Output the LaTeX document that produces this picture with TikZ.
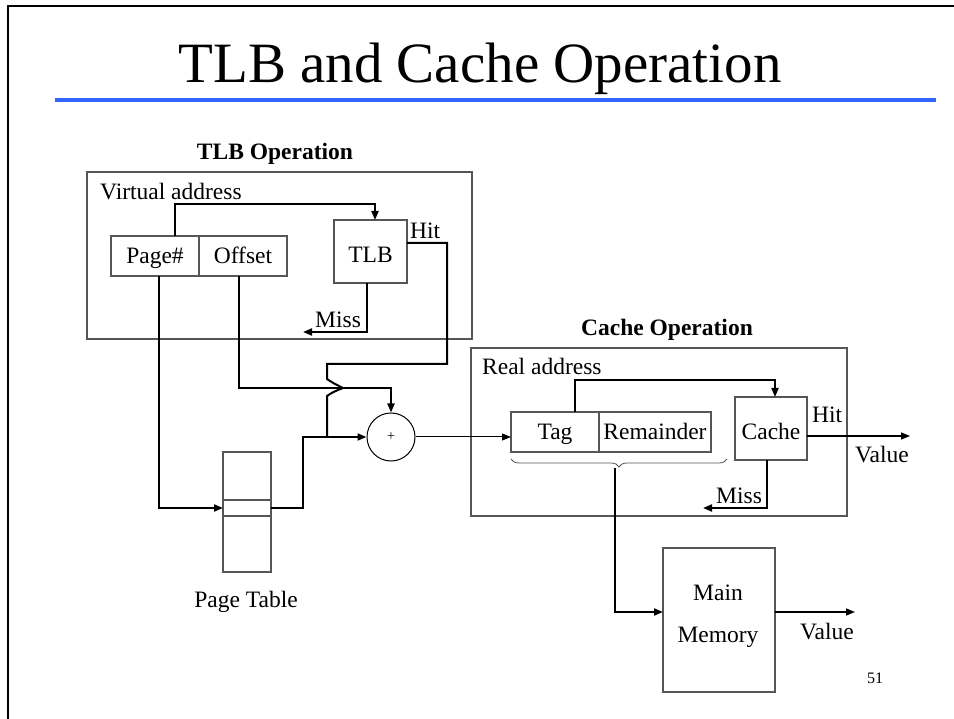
\documentclass[tikz,border=0pt]{standalone}
\usepackage{fontspec}
\setmainfont{Liberation Serif}
\usetikzlibrary{arrows.meta,decorations.pathreplacing,calc}
\definecolor{rulecol}{RGB}{51,102,255}
\definecolor{boxcol}{RGB}{85,85,85}
\begin{document}
\begin{tikzpicture}[x=1pt,y=-1pt,
  lbl/.style={font=\fontsize{23.5}{28}\selectfont, inner sep=0pt},
  box/.style={draw=boxcol, line width=1.2pt, inner sep=0pt, outer sep=0pt,
    font=\fontsize{23.5}{28}\selectfont, text height=20pt, text depth=4pt},
  tallbox/.style={box, text height=27pt, text depth=4pt},
  panel/.style={draw=boxcol, line width=1.2pt},
  conn/.style={line width=2pt, line join=miter},
  tip/.style={-{Triangle[length=9pt,width=7pt]}},
  heading/.style={font=\bfseries\fontsize{23.5}{28}\selectfont, inner sep=0pt}]
\useasboundingbox (0,0) rectangle (954,719);
\fill[white] (0,0) rectangle (954,719);

% slide frame, title and rule
\draw[line width=2.5pt] (8,719) -- (8,6) -- (954,6);
\node[anchor=base, inner sep=0pt, font=\fontsize{57}{64}\selectfont] (title) at (480,83) {TLB and Cache Operation};
\draw[rulecol, line width=4pt] (55,100) -- (936,100);

% ---------- TLB operation ----------
\node[heading, anchor=base] (tlbhead) at (275,160) {TLB Operation};
\draw[panel] (87,172) rectangle (472,339);
\node[lbl, anchor=base west] (va) at (100,200) {Virtual address};
\node[box, minimum width=88pt, minimum height=40pt] (page) at (155,256) {Page\#};
\node[box, minimum width=88pt, minimum height=40pt] (offset) at (243,256) {Offset};
\node[tallbox, minimum width=73pt, minimum height=63pt] (tlb) at (370.5,251.5) {TLB};
\node[lbl, anchor=base west] (tlbhit) at (410,239) {Hit};
\node[lbl, anchor=base west] (tlbmisslbl) at (315,328) {Miss};

% page table
\node[box, minimum width=48pt, minimum height=120pt, text height=0pt, text depth=0pt] (pt) at (247,512) {};
\node[box, minimum width=48pt, minimum height=16pt, text height=0pt, text depth=0pt] (ptrow) at (247,508) {};
\node[lbl, anchor=base] (ptlbl) at (246,607) {Page Table};

% adder
\node[draw=black, line width=1pt, circle, minimum size=48pt, inner sep=0pt,
      font=\fontsize{14}{16}\selectfont] (plus) at (391,437) {+};

% ---------- Cache operation ----------
\node[heading, anchor=base] (cachehead) at (667,336) {Cache Operation};
\draw[panel] (471,348) rectangle (847,516);
\node[lbl, anchor=base west] (ra) at (482,375) {Real address};
\node[box, minimum width=88pt, minimum height=40pt] (tag) at (555,432) {Tag};
\node[box, minimum width=112pt, minimum height=40pt] (rem) at (655,432) {Remainder};
\node[tallbox, minimum width=72pt, minimum height=63pt] (cache) at (771,428.5) {Cache};
\node[lbl, anchor=base west] (cachehit) at (812,423) {Hit};
\node[lbl, anchor=base west] (val1) at (855,463) {Value};
\node[lbl, anchor=base west] (cachemisslbl) at (716,503) {Miss};

% main memory
\node[box, minimum width=112pt, minimum height=144pt, text height=0pt, text depth=0pt] (mm) at (719,620) {};
\node[lbl, anchor=base] (mmA) at (718,600) {Main};
\node[lbl, anchor=base] (mmB) at (718,642) {Memory};
\node[lbl, anchor=base west] (val2) at (800,639) {Value};
\node[anchor=base west, inner sep=0pt, font=\fontsize{16}{19}\selectfont] (pgno) at (867,683) {51};

% free ends and bend points
\coordinate (tlbmiss) at (303,332);
\coordinate (hitA) at (447,364);
\coordinate (jmpA) at (327,379);
\coordinate (jmpB) at (343,388);
\coordinate (jmpC) at (327,396);
\coordinate (joinpt) at (327,437);
\coordinate (offA) at (239,388);
\coordinate (ptA) at (303,508);
\coordinate (cachemiss) at (703,508);
\coordinate (hitout) at (910,436);
\coordinate (valout) at (855,612);
\coordinate (braceL) at (511,459);
\coordinate (braceR) at (727,459);
\coordinate (braceTip) at (615,468);

% ---------- connectors ----------
% page number to TLB
\draw[conn, tip] ([xshift=64pt]page.north west) -- ++(0,-32) -| ([xshift=4.5pt]tlb.north);
% TLB miss
\draw[conn, tip] ([xshift=-3.5pt]tlb.south) |- (tlbmiss);
% TLB hit, jumping over the offset line
\draw[conn] ([yshift=8.5pt]tlb.east) -| (hitA) -| (jmpA)
  .. controls (333,383) .. (jmpB) .. controls (333,392) .. (jmpC) -- (joinpt);
% offset to adder
\draw[conn, tip] ([xshift=40pt]offset.south west) |- (offA) -| (plus.north);
% page number into page table
\draw[conn, tip] ([xshift=48pt]page.south west) |- (ptrow.west);
% page table entry to adder
\draw[conn, tip] (ptrow.east) -| (ptA) |- (plus.west);
% adder to real address
\draw[line width=1pt, tip] (plus.east) -- (plus.east -| tag.west);
% tag to cache
\draw[conn, tip] ([xshift=20pt]tag.north) -- ++(0,-32) -| ([xshift=4pt]cache.north);
% cache hit and miss
\draw[line width=1.5pt, tip] ([yshift=-7.5pt]cache.east) -- (hitout);
\draw[conn, tip] ([xshift=-4pt]cache.south) |- (cachemiss);
% whole real address to main memory
\draw[boxcol, line width=0.8pt, decorate, decoration={brace, mirror, amplitude=8pt}] (braceL) -- (braceR);
\draw[conn, tip] (braceTip) |- ([yshift=8pt]mm.west);
\draw[line width=1.5pt, tip] ([yshift=8pt]mm.east) -- (valout);
\end{tikzpicture}
\end{document}
